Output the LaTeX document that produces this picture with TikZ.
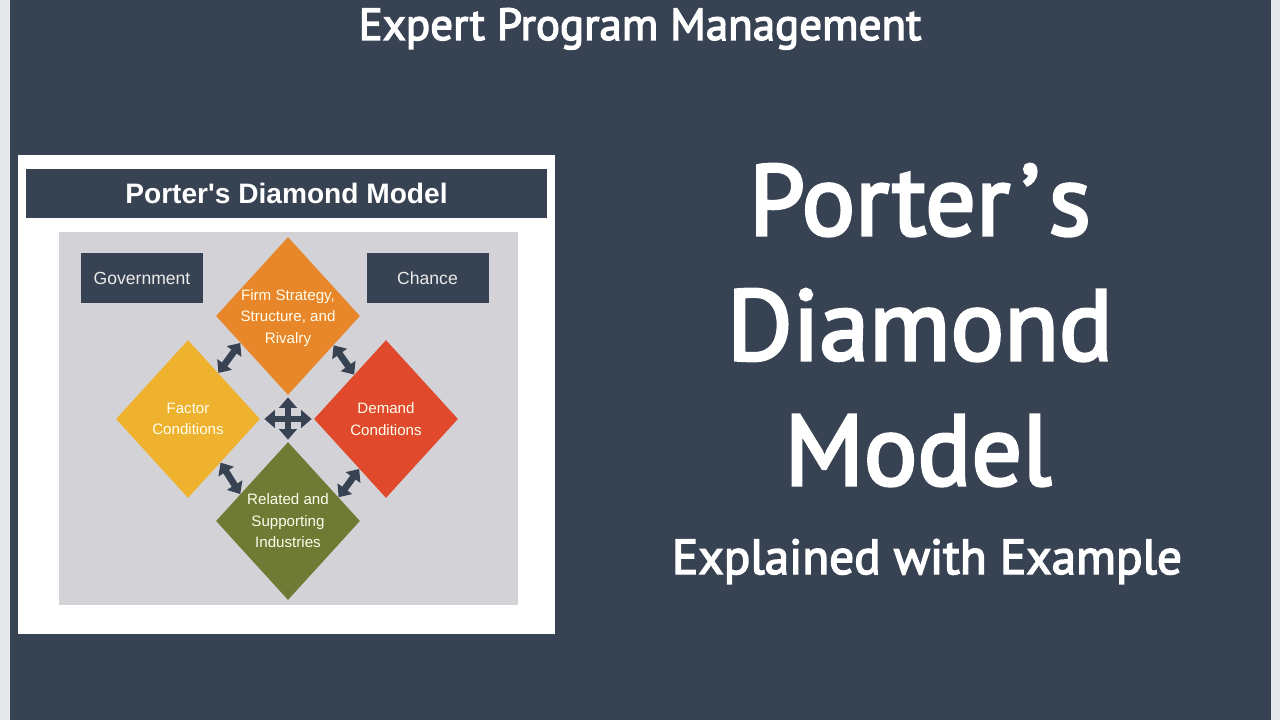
\documentclass[tikz,border=0pt]{standalone}
\usepackage{fontspec}
\setmainfont{PT Sans}
\newfontfamily\slidefont[FakeBold=3]{PT Sans}
\newfontfamily\arialfont{Liberation Sans}
\usetikzlibrary{arrows.meta, shapes.geometric, calc}

\definecolor{slate}{HTML}{374252}
\definecolor{sidegray}{HTML}{E6E7EB}
\definecolor{panelgray}{HTML}{D3D2D6}
\definecolor{firmorange}{HTML}{E8862A}
\definecolor{factoryellow}{HTML}{EEB22F}
\definecolor{demandred}{HTML}{E0492C}
\definecolor{relatedolive}{HTML}{6F7A34}

\begin{document}
\begin{tikzpicture}[x=0.2mm, y=-0.2mm,
    diam/.style={diamond, minimum width=28.8mm, minimum height=31.6mm, inner sep=0pt},
    dtext/.style={align=center, text=white!93!yellow, font=\arialfont\fontsize{8.6}{12.2}\selectfont},
    darkbox/.style={fill=slate, text=white!92!black, minimum width=24.4mm, minimum height=10mm,
        font=\arialfont\fontsize{10}{12}\selectfont},
    bigtitle/.style={anchor=base, text=white, font=\slidefont\fontsize{57}{70}\selectfont},
    dblarrow/.style={draw=slate, line width=3.8pt,
        {Triangle[width=10pt,length=6pt]}-{Triangle[width=10pt,length=6pt]}}]

    % Slide background
    \useasboundingbox (0,0) rectangle (1280,720);
    \fill[slate] (0,0) rectangle (1280,720);
    \fill[sidegray] (0,0) rectangle (10,720);
    \fill[sidegray] (1271,0) rectangle (1280,720);

    \node[anchor=base, text=white, font=\slidefont\fontsize{25.6}{30}\selectfont] (heading) at (640,40)
        {Expert Program Management};

    % Picture card
    \fill[white] (18,155) rectangle (555,634);
    \node[fill=slate, text=white, minimum width=104.2mm, minimum height=9.8mm,
        font=\arialfont\bfseries\fontsize{16}{20}\selectfont] (header) at (286.5,193.5)
        {Porter's Diamond Model};
    \fill[panelgray] (59,232) rectangle (518,605);

    \node[darkbox] (gov) at (142,278) {Government};
    \node[darkbox] (chance) at (427.5,278) {Chance};

    % The four diamonds
    \node[diam, fill=firmorange, label={[dtext, yshift=-0.4mm]center:{Firm Strategy,\\Structure, and\\Rivalry}}]
        (firm) at (288,316) {};
    \node[diam, fill=factoryellow, label={[dtext]center:{Factor\\Conditions}}]
        (factor) at (188,419) {};
    \node[diam, fill=demandred, label={[dtext]center:{Demand\\Conditions}}]
        (demand) at (386,419) {};
    \node[diam, fill=relatedolive, label={[dtext]center:{Related and\\Supporting\\Industries}}]
        (related) at (288,521) {};

    % Arrows between neighbours
    \draw[dblarrow] ($(factor.north)!0.42!(factor.east)$) -- ($(firm.west)!0.34!(firm.south)$);
    \draw[dblarrow] ($(firm.east)!0.37!(firm.south)$) -- ($(demand.north)!0.44!(demand.west)$);
    \draw[dblarrow] ($(factor.east)!0.55!(factor.south)$) -- ($(related.north)!0.66!(related.west)$);
    \draw[dblarrow] ($(related.north)!0.7!(related.east)$) -- ($(demand.west)!0.63!(demand.south)$);

    % Centre cross
    \draw[dblarrow, shorten <=0.4mm, shorten >=0.4mm] (firm.south) -- (related.north);
    \draw[dblarrow, shorten <=0.8mm, shorten >=0.4mm] (factor.east) -- (demand.west);

    % Right-hand title
    \node[bigtitle] (porter) at (920,235) {Porter\kern6pt’\kern5pt s};
    \node[bigtitle] (diamondword) at (920,360) {Diamond};
    \node[bigtitle] (model) at (918,485) {Model};
    \node[anchor=base, text=white, font=\slidefont\fontsize{28}{34}\selectfont] (explained) at (927,574)
        {Explained with Example};
\end{tikzpicture}
\end{document}
